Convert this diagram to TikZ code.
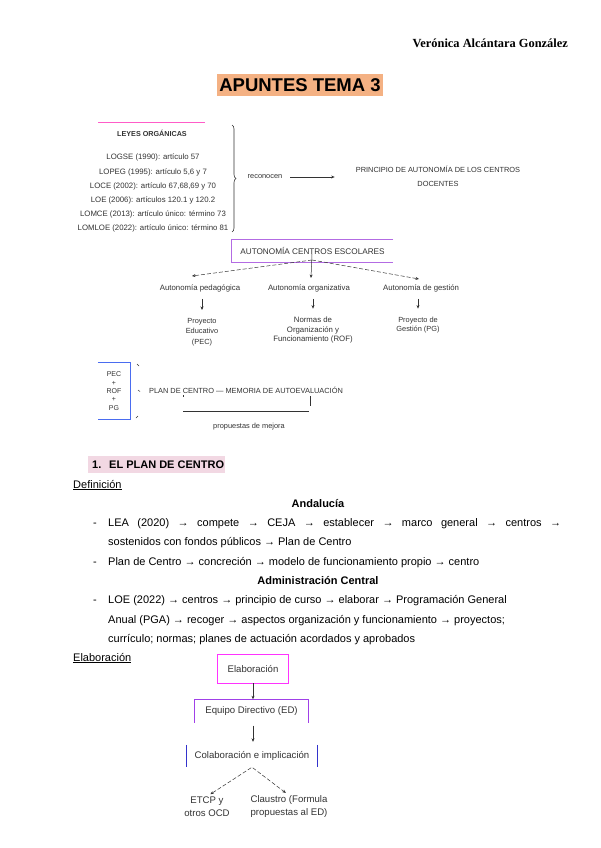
\documentclass[tikz,border=0pt]{standalone}
\usepackage{fontspec}
\setmainfont{Liberation Sans}
\newfontfamily\headfont{Liberation Serif}
\usepackage{tikz}
\usepackage{xcolor}
\usetikzlibrary{arrows.meta, positioning, decorations.pathreplacing}
\definecolor{ink}{HTML}{333333}
\definecolor{titleorange}{HTML}{F4B183}
\definecolor{sectionpink}{HTML}{F2D8E3}
\definecolor{pinkline}{HTML}{FF5CC8}
\definecolor{magentabox}{HTML}{FF33FF}
\definecolor{violetline}{HTML}{B36BE3}
\definecolor{purpleline}{HTML}{A040E8}
\definecolor{blueline}{HTML}{4A6CF0}
\definecolor{darkblue}{HTML}{3333CC}

\begin{document}
\begin{tikzpicture}[x=1pt, y=-1pt,
            small/.style={font=\fontsize{7.4}{8.5}\selectfont, text=ink, inner sep=0pt, align=center},
            flow/.style={font=\fontsize{9.6}{13}\selectfont, text=ink, inner sep=0pt, align=center},
            body/.style={font=\fontsize{11}{13}\selectfont, anchor=base west, inner sep=0pt},
            arr/.style={-{Stealth[length=3.5pt, width=3pt]}, line width=0.5pt, ink},
            darr/.style={arr, dash pattern=on 4pt off 2pt}]
            \useasboundingbox[fill=white] (0,0) rectangle (600,848);
            % cabecera
            \node[anchor=base east, inner sep=0pt, font=\headfont\bfseries\fontsize{12.4}{14}\selectfont] (autora) at (568,48) {Verónica Alcántara González};
            \node[fill=titleorange, inner xsep=2pt, inner ysep=4.35pt, text height=13.3pt, text depth=0pt,
                  font=\bfseries\fontsize{18.5}{20}\selectfont] (titulo) at (300,85) {APUNTES TEMA 3};
            % leyes organicas
            \draw[pinkline, line width=1pt] (98,123) -- (205,123);
            \node[small, font=\bfseries\fontsize{7.2}{8}\selectfont] (leyes) at (152,133) {LEYES ORGÁNICAS};
            \foreach \y/\t [count=\i] in {157/{LOGSE (1990): artículo 57},
                                          172/{LOPEG (1995): artículo 5,6 y 7},
                                          186/{LOCE (2002): artículo 67,68,69 y 70},
                                          200/{LOE (2006): artículos 120.1 y 120.2},
                                          214/{LOMCE (2013): artículo único: término 73},
                                          228/{LOMLOE (2022): artículo único: término 81}} {
                \node[small, font=\fontsize{7.8}{9}\selectfont] (ley\i) at (153,\y) {\t};
            }
            \draw[ink, line width=0.6pt, decorate, decoration={brace, amplitude=4pt}] (232,125) -- (232,232);
            \node[small] (rec) at (265,177) {reconocen};
            \node[small, font=\fontsize{7.4}{14}\selectfont] (prin) at (438,176) {PRINCIPIO DE AUTONOMÍA DE LOS CENTROS\\DOCENTES};
            \draw[arr, shorten <=8pt, shorten >=21pt] (rec.east) -- (rec.east -| prin.west);
            % autonomia
            \node[small, font=\fontsize{8.2}{9}\selectfont, minimum width=161pt, minimum height=22pt] (aut) at (312.5,251) {AUTONOMÍA CENTROS ESCOLARES};
            \draw[violetline, line width=0.9pt] (aut.north east) -- (aut.north west) -- (aut.south west) -- (aut.south east);
            \node[small, font=\fontsize{7.8}{9}\selectfont] (ped) at (200,288) {Autonomía pedagógica};
            \node[small, font=\fontsize{7.8}{9}\selectfont] (org) at (309,288) {Autonomía organizativa};
            \node[small, font=\fontsize{7.8}{9}\selectfont] (ges) at (421,288) {Autonomía de gestión};
            \coordinate (pedtip) at (192,276);
            \coordinate (orgtip) at (311,278);
            \coordinate (gestip) at (419,279);
            \coordinate (autfoot) at (312,260);
            \draw[darr] (autfoot) -- (pedtip);
            \draw[arr] ([yshift=6pt]autfoot) -- (orgtip);
            \draw[darr] (autfoot) -- (gestip);
            \node[small, font=\fontsize{7.4}{10.5}\selectfont] (pec) at (202,332) {Proyecto\\Educativo\\(PEC)};
            \node[small, font=\fontsize{7.8}{9.5}\selectfont] (rof) at (313,330) {Normas de\\Organización y\\Funcionamiento (ROF)};
            \node[small, font=\fontsize{7.4}{9.5}\selectfont] (pg) at (418,325) {Proyecto de\\Gestión (PG)};
            \foreach \a/\b in {ped/pec, org/rof, ges/pg} {
                \draw[arr, shorten <=7pt, shorten >=8pt] (\b.north |- \a.south) -- (\b.north);
            }
            % plan de centro
            \node[small, font=\fontsize{7}{8.3}\selectfont, minimum width=32pt, minimum height=56pt] (suma) at (114,391) {PEC\\+\\ROF\\+\\PG};
            \draw[blueline, line width=0.9pt] (suma.north west) -- (suma.north east) -- (suma.south east) -- (suma.south west);
            \draw[ink, line width=0.5pt] (137,364) -- (139,366) (138,390) -- (140,391.5) (136,418) -- (138,416);
            \node[small] (plan) at (246,390) {PLAN DE CENTRO — MEMORIA DE AUTOEVALUACIÓN};
            \draw[ink, line width=0.5pt] (183,395) -- (183,397);
            \draw[ink, line width=0.6pt] (183,411) -- (309,411);
            \draw[ink, line width=0.6pt] (310,396) -- (310,406);
            \node[small] (mejora) at (249,427) {propuestas de mejora};
            % texto
            \fill[sectionpink] (88,456) rectangle (225,473);
            \node[body, font=\bfseries\fontsize{11}{13}\selectfont] (num) at (92,468) {1.};
            \node[body, font=\bfseries\fontsize{11}{13}\selectfont] (seccion) at (109,468) {EL PLAN DE CENTRO};
            \node[body] (defi) at (73,488) {\underline{Definición}};
            \node[body, anchor=base, font=\bfseries\fontsize{11}{13}\selectfont] (anda) at (318,507) {Andalucía};
            \foreach \y in {526,565,603} {
                \node[body] at (93,\y) {-};
            }
            \node[body] (lin1) at (108,526) {\makebox[453pt][s]{LEA (2020) → compete → CEJA → establecer → marco general → centros →}};
            \node[body] (lin2) at (108,545) {sostenidos con fondos públicos → Plan de Centro};
            \node[body] (lin3) at (108,565) {Plan de Centro → concreción → modelo de funcionamiento propio → centro};
            \node[body, anchor=base, font=\bfseries\fontsize{11}{13}\selectfont] (admin) at (318,584) {Administración Central};
            \node[body] (lin4) at (108,603) {LOE (2022) → centros → principio de curso → elaborar → Programación General};
            \node[body] (lin5) at (108,623) {Anual (PGA) → recoger → aspectos organización y funcionamiento → proyectos;};
            \node[body] (lin6) at (108,642) {currículo; normas; planes de actuación acordados y aprobados};
            \node[body] (elabt) at (73,661) {\underline{Elaboración}};
            % esquema de elaboracion
            \node[flow, minimum width=71pt, minimum height=28pt] (elab) at (253,669) {Elaboración};
            \draw[draw=magentabox, line width=1.2pt] (elab.north west) rectangle (elab.south east);
            \node[flow, minimum width=113pt, minimum height=23pt] (ed) at (251.5,711) {Equipo Directivo (ED)};
            \draw[purpleline, line width=0.9pt] (ed.south west) -- (ed.north west) -- (ed.north east) -- (ed.south east);
            \node[flow, minimum width=131pt, minimum height=22pt] (colab) at (252,756) {Colaboración e implicación};
            \draw[darkblue, line width=0.8pt] (colab.north west) -- (colab.south west) (colab.north east) -- (colab.south east);
            \node[flow] (etcp) at (207,806.5) {ETCP y\\otros OCD};
            \node[flow] (claus) at (289,806.5) {Claustro (Formula\\propuestas al ED)};
            \draw[arr] (elab.south) -- (ed.north -| elab.south);
            \draw[arr, shorten <=3pt, shorten >=3pt] (ed.south -| elab.south) -- (colab.north -| elab.south);
            \draw[darr, shorten <=1pt, shorten >=4pt] (colab.south) -- (etcp.north);
            \draw[darr, shorten <=1pt, shorten >=4pt] (colab.south) -- (claus.north);
        \end{tikzpicture}
\end{document}
